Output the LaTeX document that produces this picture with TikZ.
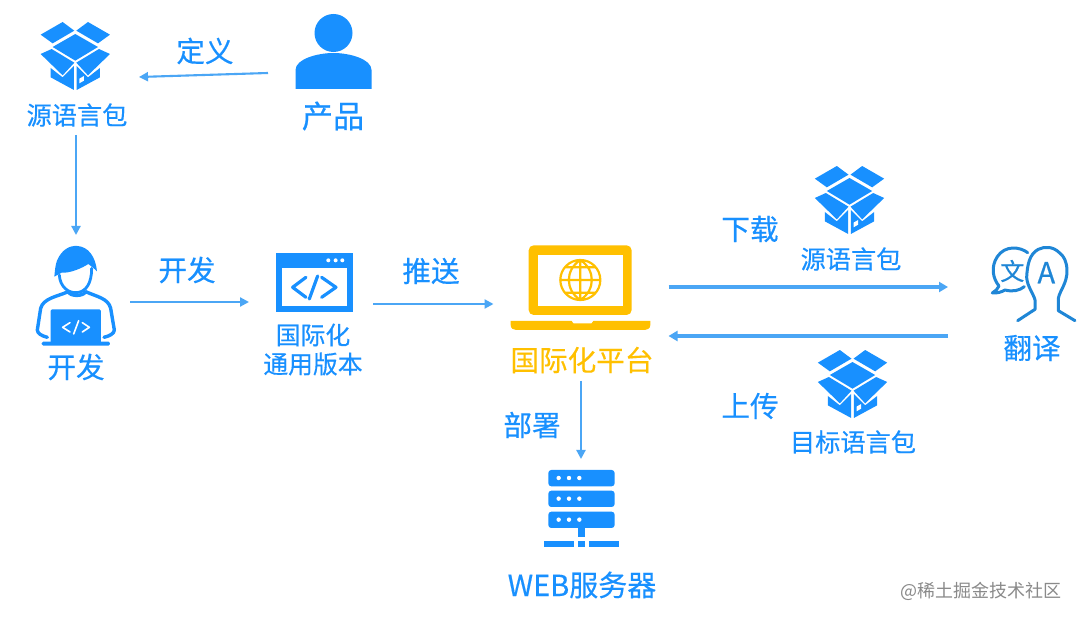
\documentclass[tikz,border=0pt]{standalone}
\usepackage{fontspec}
\setmainfont[FakeBold=0.35]{Noto Sans CJK SC}
\newfontfamily\plainface{Noto Sans CJK SC}
\usetikzlibrary{arrows.meta}
\definecolor{ink}{HTML}{1890FF}
\definecolor{flow}{HTML}{4BA6F5}
\definecolor{gold}{HTML}{FFC000}
\definecolor{duo}{HTML}{1F86D6}
\definecolor{mark}{HTML}{8A8A8A}
\tikzset{
  lab/.style={font=\fontsize{#1}{#1}\selectfont,text=ink,inner sep=0pt},
  frame/.style={inner sep=0pt,outer sep=0pt,draw=none},
  thinflow/.style={draw=flow,line width=2.1pt,-{Triangle[length=9pt,width=9pt]}},
  thickflow/.style={draw=flow,line width=3.2pt,-{Triangle[length=9pt,width=10pt]}},
  pkg/.pic={
    \begin{scope}[x=0.3333pt,y=-0.3333pt]
      \begin{scope}[fill=ink]
      \fill (-104,-64) -- (-38,-102) -- (-3,-76) -- (-68,-38) -- cycle;
      \fill (104,-64) -- (38,-102) -- (3,-76) -- (68,-38) -- cycle;
      \fill (0,-66) -- (68,-27) -- (0,14) -- (-68,-27) -- cycle;
      \fill (-104,-6) -- (-71,-21) -- (-3,20) -- (-38,58) -- cycle;
      \fill (104,-6) -- (71,-21) -- (3,20) -- (38,58) -- cycle;
      \fill (-74,36) -- (-38,64) -- (-4,30) -- (-4,102) -- (-74,64) -- cycle;
      \fill (74,36) -- (38,64) -- (4,30) -- (4,102) -- (74,64) -- cycle;
      \end{scope}
      \fill[white] (12,68) -- (26,60) -- (26,74) -- (12,82) -- cycle;
    \end{scope}
  },
  personicon/.pic={
    \fill[ink] (0,-40) circle (19pt);
    \fill[ink] (-38,16) -- (-38,-3) .. controls (-38,-14) and (-16,-20) .. (0,-20)
      .. controls (16,-20) and (38,-14) .. (38,-3) -- (38,16) -- cycle;
  },
  devicon/.pic={
    \begin{scope}[x=0.3333pt,y=-0.3333pt]
      \draw[ink,line width=2.8pt,line cap=round,line join=round]
        (118,135) .. controls (120,170) and (145,190) .. (170,188) .. controls (198,186) and (215,160) .. (215,115);
      \fill[ink] (103,140) .. controls (105,120) and (106,105) .. (111,92)
        .. controls (125,58) and (150,46) .. (172,48) .. controls (205,50) and (227,80) .. (231,124)
        .. controls (222,115) and (215,110) .. (205,102) .. controls (185,115) and (150,130) .. (125,128)
        -- (103,140) -- cycle;
      \draw[ink,line width=3.4pt,line cap=round,line join=round]
        (145,185) .. controls (150,200) and (190,200) .. (197,185)
        (145,185) .. controls (110,200) and (70,205) .. (62,235) -- (52,300) .. controls (52,310) and (65,318) .. (82,322)
        (197,185) .. controls (230,200) and (265,205) .. (272,235) -- (283,300) .. controls (283,310) and (270,318) .. (252,322);
      \fill[ink,rounded corners=1.5pt] (92,238) rectangle (243,340);
      \fill[ink,rounded corners=1.5pt] (65,335) rectangle (270,347);
      \draw[white,line width=1.6pt,line cap=round,line join=round]
        (150,278) -- (128,292) -- (150,306) (176,272) -- (161,312) (187,278) -- (208,292) -- (187,306);
    \end{scope}
  },
  windowicon/.pic={
    \begin{scope}[x=0.3333pt,y=-0.3333pt]
      \fill[ink] (768,68) rectangle (998,245);
      \fill[white] (785,115) rectangle (980,228);
      \foreach \k in {925,947,967} \fill[white] (\k,91) circle (2pt);
      \draw[ink,line width=3.2pt,line cap=round,line join=round]
        (858,142) -- (818,172) -- (858,202) (893,138) -- (868,207) (905,142) -- (948,172) -- (905,202);
    \end{scope}
  },
  laptopicon/.pic={
    \begin{scope}[x=0.3333pt,y=-0.3333pt]
      \fill[gold,rounded corners=5pt] (116,46) -- (425,46) -- (425,255) -- (116,255) -- cycle;
      \fill[white] (145,75) rectangle (398,228);
      \fill[gold] (62,273) -- (245,273) -- (250,280) -- (305,280) -- (310,273) -- (481,273)
        -- (481,285) .. controls (481,295) and (472,300) .. (465,300) -- (78,300)
        .. controls (70,300) and (62,295) .. (62,285) -- cycle;
      \draw[gold,line width=2.2pt] (271,150) circle (20pt) (271,90) -- (271,210) (211,150) -- (331,150)
        (224,112) -- (318,112) (224,188) -- (318,188)
        (271,90) .. controls (225,120) and (225,180) .. (271,210)
        (271,90) .. controls (317,120) and (317,180) .. (271,210);
    \end{scope}
  },
  rackicon/.pic={
    \begin{scope}[x=0.3333pt,y=-0.3333pt]
      \foreach \t in {60,122,185} {
        \fill[ink,rounded corners=3pt] (175,\t) rectangle (374,\t+49);
        \foreach \k in {206,237,268} \fill[white] (\k,\t+24) circle (2.2pt);
      }
      \fill[ink] (265,234) rectangle (285,262);
      \fill[ink] (163,272) rectangle (253,291);
      \fill[ink] (265,272) rectangle (285,291);
      \fill[ink] (297,272) rectangle (387,291);
    \end{scope}
  },
  duoicon/.pic={
    \begin{scope}[x=0.3333pt,y=-0.3333pt]
      \draw[duo,line width=3pt,line cap=round,line join=round]
        (173,68) .. controls (150,50) and (105,45) .. (82,80)
        .. controls (62,110) and (68,145) .. (87,168)
        .. controls (84,176) and (76,184) .. (67,189)
        .. controls (82,190) and (95,186) .. (105,180)
        .. controls (128,186) and (148,182) .. (163,170);
      \draw[duo,line width=3pt,line cap=round,line join=round]
        (143,272) -- (195,238) -- (195,210) .. controls (190,190) and (172,170) .. (170,142)
        .. controls (172,105) and (178,72) .. (205,58)
        .. controls (225,48) and (250,50) .. (268,68)
        .. controls (282,78) and (290,95) .. (291,120)
        .. controls (292,160) and (270,180) .. (265,205)
        -- (265,242) -- (315,272);
      \node[font=\fontsize{24}{24}\selectfont,text=duo,inner sep=0pt] (duowen) at (127,123) {文};
      \node[font=\fontsize{29}{29}\selectfont,text=duo,inner sep=0pt] (duoa) at (229,128) {A};
    \end{scope}
  }
}
\begin{document}
\begin{tikzpicture}[x=1pt,y=-1pt]
\useasboundingbox (0,0) rectangle (1080,620);
\fill[white] (0,0) rectangle (1080,620);

% invisible frames that the connectors attach to
\node[frame,minimum width=126pt,minimum height=116pt] (srcA) at (76,77) {};
\node[frame,minimum width=130pt,minimum height=120pt] (prod) at (333,73) {};
\node[frame,minimum width=108pt,minimum height=134pt] (dev) at (76,302) {};
\node[frame,minimum width=124pt,minimum height=104pt] (ver) at (311,303) {};
\node[frame,minimum width=175pt,minimum height=142pt] (plat) at (581,310) {};
\node[frame,minimum width=130pt,minimum height=142pt] (trans) at (1013,310) {};
\node[frame,minimum width=120pt,minimum height=130pt] (srv) at (581,524) {};

% icons
\pic at (75.3,56) {pkg};
\pic at (849.5,200) {pkg};
\pic at (852.5,384) {pkg};
\pic at (333.5,73) {personicon};
\pic at (20,230) {devicon};
\pic at (20,230) {windowicon};
\pic at (490,230) {laptopicon};
\pic at (490,450) {rackicon};
\pic at (970,230) {duoicon};

% connectors
\draw[thinflow] (prod.west) -- (srcA.east);
\draw[thinflow] (srcA.south) -- (dev.north);
\draw[thinflow] (dev.east) -- ([yshift=1pt]ver.west);
\draw[thinflow] ([yshift=-1pt]ver.east) -- ([yshift=6pt]plat.west);
\draw[thinflow] (plat.south) -- (srv.north);
\draw[thickflow] ([yshift=23pt]plat.east) -- ([yshift=23pt]trans.west);
\draw[thickflow] ([yshift=-26pt]trans.west) -- ([yshift=-26pt]plat.east);

% labels
\node[lab=25.2] (tA) at (77,115) {源语言包};
\node[lab=28.6] (tdef) at (205,51) {定义};
\node[lab=31.2] (tprod) at (333,116) {产品};
\node[lab=28.6] (tdev) at (76,367) {开发};
\node[lab=28.6] (tdevf) at (187,270) {开发};
\node[lab=24.8] (tv1) at (313,335) {国际化};
\node[lab=24.8] (tv2) at (313,364) {通用版本};
\node[lab=28.6] (tpush) at (431,271) {推送};
\node[lab=28.6,text=gold] (tplat) at (582,360) {国际化平台};
\node[lab=28.6] (tdep) at (532,425) {部署};
\node[lab=29] (tweb) at (582,585) {WEB服务器};
\node[lab=28.6] (tdown) at (750,229) {下载};
\node[lab=25.2] (tB) at (851,259) {源语言包};
\node[lab=28.6] (tup) at (750,406) {上传};
\node[lab=25.2] (tC) at (853,442) {目标语言包};
\node[lab=28.6] (ttr) at (1032,348) {翻译};
\node[font=\plainface\fontsize{18}{18}\selectfont,text=mark,inner sep=0pt] (wm) at (981,591) {@稀土掘金技术社区};
\end{tikzpicture}
\end{document}
